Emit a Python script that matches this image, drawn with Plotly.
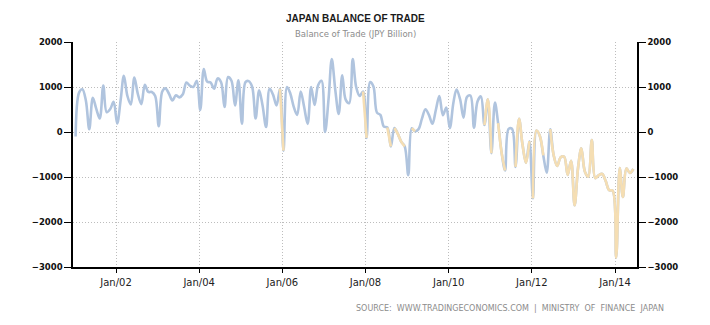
import pandas as pd
import plotly.graph_objects as go

# Monthly balance of trade, JPY billion, Jan 2001 .. Jun 2014
values = [
    -100, 880, 950, 700, 60, 760, 520, 300, 1030, 440, 510, 670,          # 2001
    190, 720, 1250, 800, 610, 1210, 850, 620, 1050, 890, 890, 800,        # 2002
    130, 900, 970, 850, 700, 815, 770, 840, 1100, 1030, 1000, 1140,       # 2003
    490, 1400, 1120, 1100, 960, 1190, 1110, 555, 1220, 1140, 590, 1150,   # 2004
    185, 1110, 1130, 1000, 300, 925, 590, 110, 960, 830, 590, 960,        # 2005
    -415, 1000, 860, 560, 380, 900, 560, 180, 1000, 600, 1040, 1140,      # 2006
    0, 740, 1620, 930, 400, 1260, 720, 640, 1620, 1000, 800, 900,         # 2007
    -130, 1110, 1010, 430, 380, 120, 100, -320, 90, -40, -220, -320,      # 2008
    -960, 82, 17, 64, 296, 506, 380, 182, 499, 800, 372, 543,             # 2009
    86, 647, 946, 729, 320, 780, 810, 96, 677, 791, 155, 724,             # 2010
    -471, 654, 196, -463, -854, 70, 72, -775, 295, -274, -685, -205,      # 2011
    -1475, 33, -83, -520, -907, 62, -517, -754, -559, -549, -953, -641,   # 2012
    -1629, -777, -362, -880, -994, -181, -1024, -960, -932, -1091, -1293, -1302,  # 2013
    -2790, -800, -1446, -809, -909, -822,                                 # 2014
]
start_month = "2001-01-01"

# index ranges (inclusive) of points drawn in the second (tan) colour
tan_runs = [(59, 60), (83, 84), (90, 91), (92, 95), (97, 98), (118, 120),
            (122, 124), (127, 131), (132, 135), (137, 161)]

tick_dates = ["2002-01-01", "2004-01-01", "2006-01-01", "2008-01-01",
              "2010-01-01", "2012-01-01", "2014-01-01"]
tick_text = ["Jan/02", "Jan/04", "Jan/06", "Jan/08", "Jan/10", "Jan/12", "Jan/14"]
y_ticks = [-3000, -2000, -1000, 0, 1000, 2000]

title = "JAPAN BALANCE OF TRADE"
subtitle = "Balance of Trade (JPY Billion)"
source = "SOURCE:\u00a0\u00a0WWW.TRADINGECONOMICS.COM\u00a0\u00a0|\u00a0\u00a0MINISTRY\u00a0\u00a0OF\u00a0\u00a0FINANCE\u00a0\u00a0JAPAN"

BLUE = "#b0c4de"
TAN = "#f5deb3"
GRID = "#bdbdbd"
GRID_DASH = "1px,2px"

dates = pd.date_range(start_month, periods=len(values), freq="MS") + pd.Timedelta(days=10)

fig = go.Figure()
fig.add_trace(go.Scatter(x=dates, y=values, mode="lines",
                         line=dict(color=BLUE, width=2.6, shape="spline"),
                         hoverinfo="skip", showlegend=False))
for a, b in tan_runs:
    fig.add_trace(go.Scatter(x=dates[a:b + 1], y=values[a:b + 1], mode="lines",
                             line=dict(color=TAN, width=2.6, shape="spline"),
                             hoverinfo="skip", showlegend=False))
# invisible copy to bring up the right-hand axis
fig.add_trace(go.Scatter(x=dates, y=values, mode="lines", yaxis="y2",
                         line=dict(color="rgba(0,0,0,0)", width=0),
                         hoverinfo="skip", showlegend=False))

ytickfont = dict(family="DejaVu Sans", size=8.5, color="#111111", weight="bold")
xtickfont = dict(family="DejaVu Sans", size=10, color="#222222")

fig.update_layout(
    width=710, height=325,
    margin=dict(l=73, r=73, t=42, b=58),
    paper_bgcolor="white", plot_bgcolor="white",
    showlegend=False,
    xaxis=dict(
        type="date", range=["2000-12-19", "2014-07-13"],
        tickvals=tick_dates, ticktext=tick_text,
        showgrid=True, gridcolor=GRID, griddash=GRID_DASH, gridwidth=1,
        showline=True, linecolor="black", linewidth=1.5,
        ticks="outside", ticklen=4, tickcolor="black", tickwidth=1,
        tickfont=xtickfont, ticklabelstandoff=1, zeroline=False,
    ),
    yaxis=dict(
        range=[-3000, 2000], tickvals=y_ticks,
        showgrid=True, gridcolor=GRID, griddash=GRID_DASH, gridwidth=1,
        showline=True, linecolor="black", linewidth=1.5,
        ticks="outside", ticklen=7, tickcolor="black", tickwidth=1,
        tickfont=ytickfont, zeroline=False,
    ),
    yaxis2=dict(
        range=[-3000, 2000], tickvals=y_ticks, overlaying="y", side="right",
        showgrid=False, showline=True, linecolor="black", linewidth=1.5,
        ticks="outside", ticklen=7, tickcolor="black", tickwidth=1,
        tickfont=ytickfont, zeroline=False,
    ),
    annotations=[
        dict(text=title, xref="paper", yref="paper", x=0.5, y=1.105,
             xanchor="center", yanchor="middle", showarrow=False,
             font=dict(family="Liberation Sans", size=10, color="#1a1a1a", weight="bold")),
        dict(text=subtitle, xref="paper", yref="paper", x=0.5, y=1.034,
             xanchor="center", yanchor="middle", showarrow=False,
             font=dict(family="DejaVu Sans", size=8.5, color="#8c8c8c")),
        dict(text=source, xref="paper", yref="paper", x=1.0515, y=-0.185,
             xanchor="right", yanchor="middle", showarrow=False,
             font=dict(family="DejaVu Sans", size=8, color="#8c8c8c")),
    ],
)

fig.write_html("out.html")
